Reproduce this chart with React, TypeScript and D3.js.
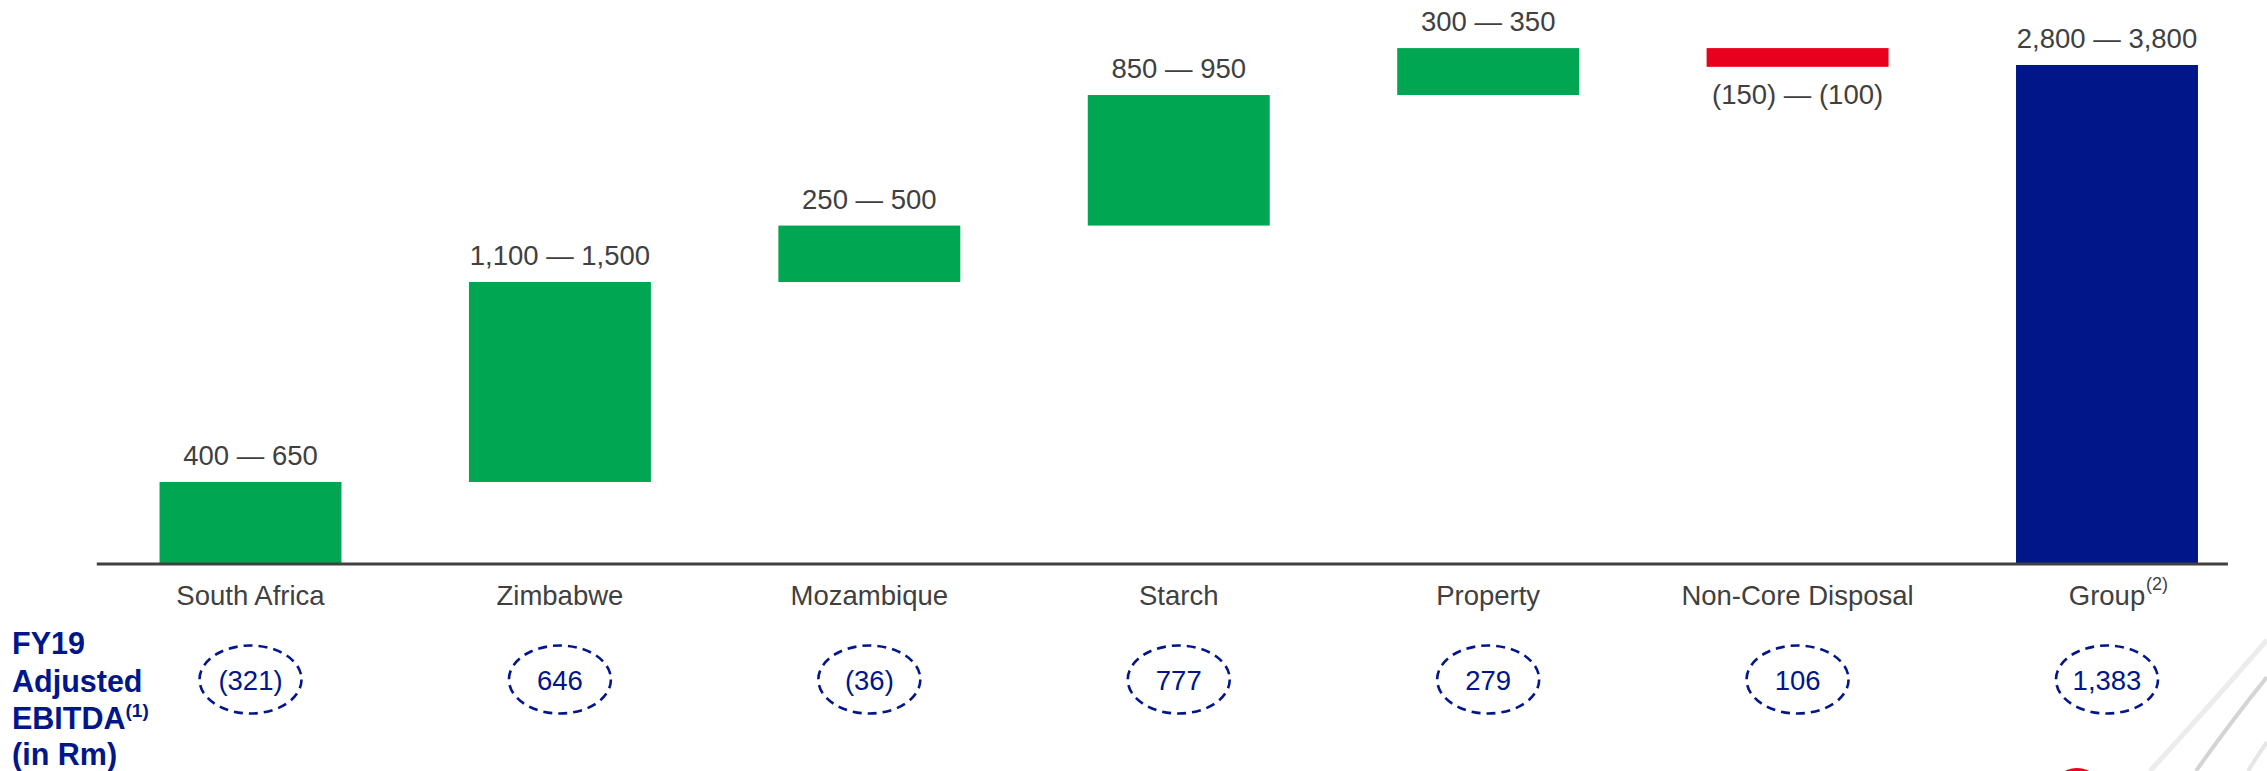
import React from "react"
import * as d3 from "d3"

// segments of the bridge, left to right
const categories = [
	"South Africa",
	"Zimbabwe",
	"Mozambique",
	"Starch",
	"Property",
	"Non-Core Disposal",
	"Group",
]

// range labels printed next to each bar
const rangeLabels = [
	"400 — 650",
	"1,100 — 1,500",
	"250 — 500",
	"850 — 950",
	"300 — 350",
	"(150) — (100)",
	"2,800 — 3,800",
]

// bar sizes (Rm); last one is the total
const barValues = [537, 1325, 374, 865, 311, -124, 3300]
const totalFlags = [false, false, false, false, false, false, true]

// FY19 adjusted EBITDA shown in the dashed circles
const fy19Values = ["(321)", "646", "(36)", "777", "279", "106", "1,383"]

const colors = {
	up: "#00a651",
	down: "#e8001e",
	total: "#001689",
	text: "#404040",
	blue: "#001689",
}

const W = 2267
const H = 771
const FONT = "Arial, 'Liberation Sans', Helvetica, sans-serif"

const App = () => {
	// build the waterfall steps
	let running = 0
	const steps = categories.map((name, i) => {
		const v = barValues[i]
		let start, end
		if (totalFlags[i]) {
			start = 0
			end = v
		} else {
			start = running
			end = running + v
		}
		running = end
		return { name, start, end, value: v, total: totalFlags[i], i }
	})

	const x = d3
		.scaleBand()
		.domain(categories)
		.range([95.8, 2261.7])
		.paddingInner(0.412)
		.paddingOuter(0.206)

	const y = d3.scaleLinear().domain([0, 3300]).range([563, 65])

	const cx = (name) => x(name) + x.bandwidth() / 2
	const last = categories[categories.length - 1]

	return (
		<svg
			width={W}
			height={H}
			style={{ position: "absolute", left: 0, top: 0, background: "#fff" }}
			fontFamily={FONT}
		>
			{/* slide decoration bottom right */}
			<g fill="none">
				<path d="M2150,771 Q2215,700 2267,640" stroke="#ececec" strokeWidth={5} />
				<path d="M2196,771 Q2232,720 2267,677" stroke="#d4d4d4" strokeWidth={4} />
				<path d="M2248,771 Q2258,755 2267,742" stroke="#e6e6e6" strokeWidth={4} />
			</g>
			<circle cx={2077} cy={794} r={26} fill={colors.down} />

			{/* bars */}
			{steps.map((s) => (
				<rect
					key={s.name}
					x={x(s.name)}
					width={x.bandwidth()}
					y={y(Math.max(s.start, s.end))}
					height={Math.abs(y(s.start) - y(s.end))}
					fill={s.total ? colors.total : s.value < 0 ? colors.down : colors.up}
				/>
			))}

			{/* axis line */}
			<line
				x1={x.range()[0] + 1}
				x2={x(last) + x.bandwidth() + 30}
				y1={y(0) + 1}
				y2={y(0) + 1}
				stroke="#404040"
				strokeWidth={3}
			/>

			{/* range labels */}
			{steps.map((s) => {
				const neg = s.value < 0
				const ty = neg
					? y(Math.min(s.start, s.end)) + 37
					: y(Math.max(s.start, s.end)) - 17
				return (
					<text
						key={"l" + s.name}
						x={cx(s.name)}
						y={ty}
						textAnchor="middle"
						fontSize={27.5}
						fill={colors.text}
					>
						{rangeLabels[s.i]}
					</text>
				)
			})}

			{/* category labels */}
			{categories.map((c) => (
				<text
					key={"c" + c}
					x={cx(c)}
					y={605}
					textAnchor="middle"
					fontSize={27.5}
					fill={colors.text}
				>
					{c}
				</text>
			))}
			<text x={cx(last) + 39} y={590} fontSize={18} fill={colors.text}>
				(2)
			</text>

			{/* FY19 circles */}
			{categories.map((c, i) => (
				<g key={"f" + c} transform={`translate(${cx(c)},679.5)`}>
					<ellipse
						rx={51}
						ry={34}
						fill="none"
						stroke={colors.blue}
						strokeWidth={2.6}
						strokeDasharray="9 6"
					/>
					<text
						y={10}
						textAnchor="middle"
						fontSize={27.5}
						fill={colors.blue}
					>
						{fy19Values[i]}
					</text>
				</g>
			))}

			{/* row title */}
			<g fill={colors.blue} fontWeight="bold" fontSize={30.5}>
				<text x={12} y={654}>FY19</text>
				<text x={12} y={692}>Adjusted</text>
				<text x={12} y={729}>
					EBITDA
					<tspan fontSize={19} dy={-12}>(1)</tspan>
				</text>
				<text x={12} y={765}>(in Rm)</text>
			</g>
		</svg>
	)
}

export default App
